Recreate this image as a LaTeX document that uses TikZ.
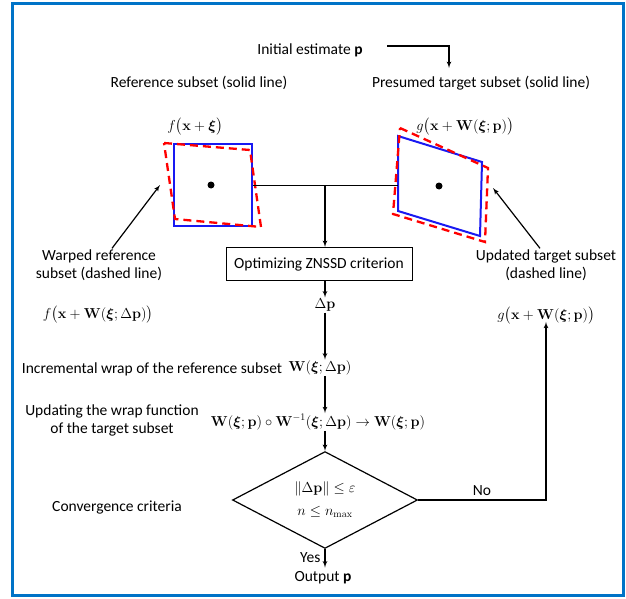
\documentclass[tikz,border=0pt]{standalone}
\usepackage{amsmath}
\usepackage{bm}
\usepackage[no-math]{fontspec}
\setmainfont{Carlito}
\usepackage{tikz}
\usetikzlibrary{arrows,shapes.geometric}
\definecolor{framecolor}{rgb}{0.0, 0.45, 0.78}
\definecolor{subsetblue}{rgb}{0.1, 0.1, 0.95}

\begin{document}
\begin{tikzpicture}[x=1pt,y=-1pt]

		\tikzset{lbl/.style = {font=\fontsize{15.5}{18}\selectfont, align=center, inner sep=1pt}}
		\tikzset{formula/.style = {font=\fontsize{14.5}{17}\selectfont, inner sep=1pt}}
		\tikzset{edge/.style = {->,> = latex', line width=1.2pt}}
		\tikzset{solidsub/.style = {draw=subsetblue, line width=2pt}}
		\tikzset{dashsub/.style = {draw=red, line width=2.3pt, dash pattern=on 8pt off 5pt}}
		\useasboundingbox (0,0) rectangle (626,599);
		\draw[framecolor, line width=3pt] (12.5,3.5) rectangle (623.5,595.5);

		% top labels
		\node[lbl] (init) at (310,50) {Initial estimate \textbf{p}};
		\node[lbl] (refsub) at (199,83) {Reference subset (solid line)};
		\node[lbl] (tarsub) at (481,83) {Presumed target subset (solid line)};
		\node[formula] (fref) at (195,127) {$f\big(\mathbf{x}+\bm{\xi}\big)$};
		\node[formula] (gpres) at (465,127) {$g\big(\mathbf{x}+\mathbf{W}(\bm{\xi};\mathbf{p})\big)$};
		\coordinate (initstart) at (387,46);
		\coordinate (initcorner) at (449,46);
		\coordinate (initend) at (449,68);

		% subsets
		\node[solidsub, minimum width=78, minimum height=82] (refbox) at (213,185) {};
		\draw[dashsub] (164,143) -- (250,150) -- (261,227) -- (175,219) -- cycle;
		\fill (211,185) circle (3.5pt);
		\draw[solidsub] (398,136) -- (482,162) -- (480,236) -- (398,211) -- cycle;
		\draw[dashsub] (400,128) -- (488,168) -- (485,242) -- (393,214) -- cycle;
		\fill (439,186) circle (3.5pt);
		\coordinate (tarleft) at (398,185);
		\coordinate (junction) at (325,185);

		% side labels
		\node[lbl] (warped) at (99,265) {Warped reference\\subset (dashed line)};
		\node[formula] (fwarp) at (98,315) {$f\big(\mathbf{x}+\mathbf{W}(\bm{\xi};\Delta\mathbf{p})\big)$};
		\node[lbl] (updated) at (546,265) {Updated target subset\\(dashed line)};
		\node[formula] (gtar) at (546,316) {$g\big(\mathbf{x}+\mathbf{W}(\bm{\xi};\mathbf{p})\big)$};
		\coordinate (warpedtip) at (160,185);
		\coordinate (updatedtip) at (493,188);
		\node[lbl] (incr) at (152,369) {Incremental wrap of the reference subset};
		\node[lbl] (upd) at (112,420) {Updating the wrap function\\of the target subset};
		\node[lbl] (convlbl) at (117,507) {Convergence criteria};

		% main column
		\node[draw, lbl, inner sep=4pt, minimum width=186, minimum height=33, line width=1pt] (optbox) at (319,264) {Optimizing ZNSSD criterion};
		\node[formula] (dp) at (325,305) {$\Delta\mathbf{p}$};
		\node[formula] (wdp) at (320,368) {$\mathbf{W}(\bm{\xi};\Delta\mathbf{p})$};
		\node[formula] (compose) at (318,422) {$\mathbf{W}(\bm{\xi};\mathbf{p})\circ\mathbf{W}^{-1}(\bm{\xi};\Delta\mathbf{p})\rightarrow\mathbf{W}(\bm{\xi};\mathbf{p})$};
		\node[draw, diamond, formula, align=center, inner sep=0pt, minimum width=185, minimum height=72, line width=1.2pt] (conv) at (325,500) {$\|\Delta\mathbf{p}\|\le\varepsilon$\\[6pt]$n\le n_{\max}$};
		\node[lbl] (output) at (323,578) {Output \textbf{p}};

		% edges
		\draw[edge] (initstart) -- (initcorner) -- (initend);
		\draw[line width=1pt] (refbox.east) -- (tarleft);
		\draw[edge] (junction) -- (optbox.north -| junction);
		\draw[edge] (optbox.south -| dp) -- (dp.north);
		\draw[edge] (dp.south) -- (wdp.north -| dp);
		\draw[edge] (wdp.south -| dp) -- (compose.north -| dp);
		\draw[edge] (compose.south -| dp) -- (conv.north);
		\draw[edge, shorten >=3pt] (conv.south) -- node[lbl, left=3pt, pos=0.4] {Yes} (output.north -| conv);
		\draw[edge] (conv.east) -- node[lbl, above=3pt, pos=0.5] {No} (conv.east -| gtar) -- ([yshift=4pt]gtar.south);
		\draw[edge] ([xshift=13pt]warped.north) -- (warpedtip);
		\draw[edge] ([xshift=-6pt]updated.north) -- (updatedtip);

\end{tikzpicture}
\end{document}
